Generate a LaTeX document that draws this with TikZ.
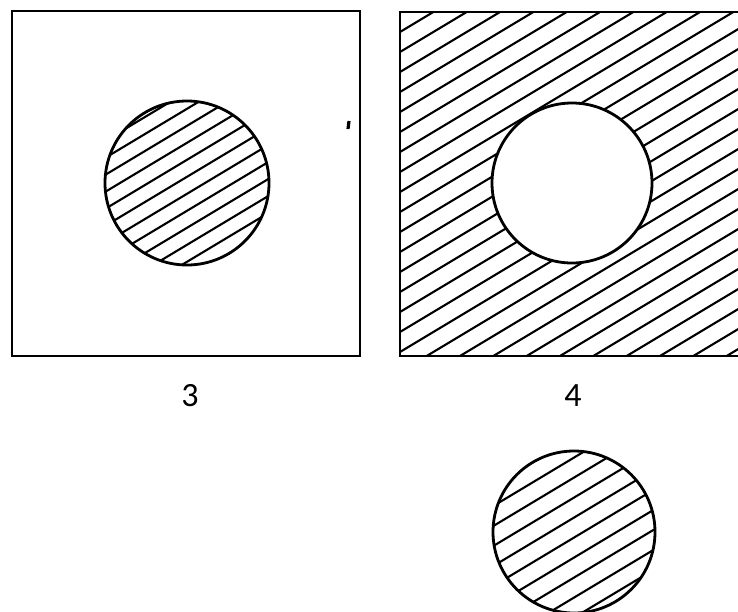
\documentclass[tikz,border=0pt]{standalone}
\usepackage{fontspec}
\setmainfont{Carlito}
\begin{document}
\begin{tikzpicture}[x=1pt,y=-1pt,
  outl/.style={line width=2.8pt,line join=miter},
  hatch/.style={line width=2.1pt},
  lbl/.style={font=\fontsize{34}{40}\selectfont,inner sep=0pt}]
\useasboundingbox (0,0) rectangle (738,611);
\clip (0,0) rectangle (738,611);
% left panel
\begin{scope}
  \clip (187,183) circle[radius=82pt];
  \foreach \c in {204,221,...,395} \draw[hatch] (90,\c-54) -- (290,\c-174);
\end{scope}
\draw[outl] (187,183) circle[radius=82pt];
\draw[outl] (12,11) rectangle (360,356);
\draw[line width=3.2pt] (349,121) -- (348,129);
% right panel
\begin{scope}
  \clip (400,12) rectangle (745,356);
  \foreach \c in {252,272,...,812} \draw[hatch] (390,\c-234) -- (750,\c-450);
\end{scope}
\fill[white] (572,183) circle[radius=80pt];
\draw[outl] (572,183) circle[radius=80pt];
\draw[outl] (400,12) rectangle (760,356);
% labels
\node[lbl] (l3) at (190,396) {3};
\node[lbl] (l4) at (573,396) {4};
% bottom circle
\begin{scope}
  \clip (574,532) circle[radius=81pt];
  \foreach \c in {782,802,...,975} \draw[hatch] (480,\c-288) -- (670,\c-402);
\end{scope}
\draw[outl] (574,532) circle[radius=81pt];
\end{tikzpicture}
\end{document}
